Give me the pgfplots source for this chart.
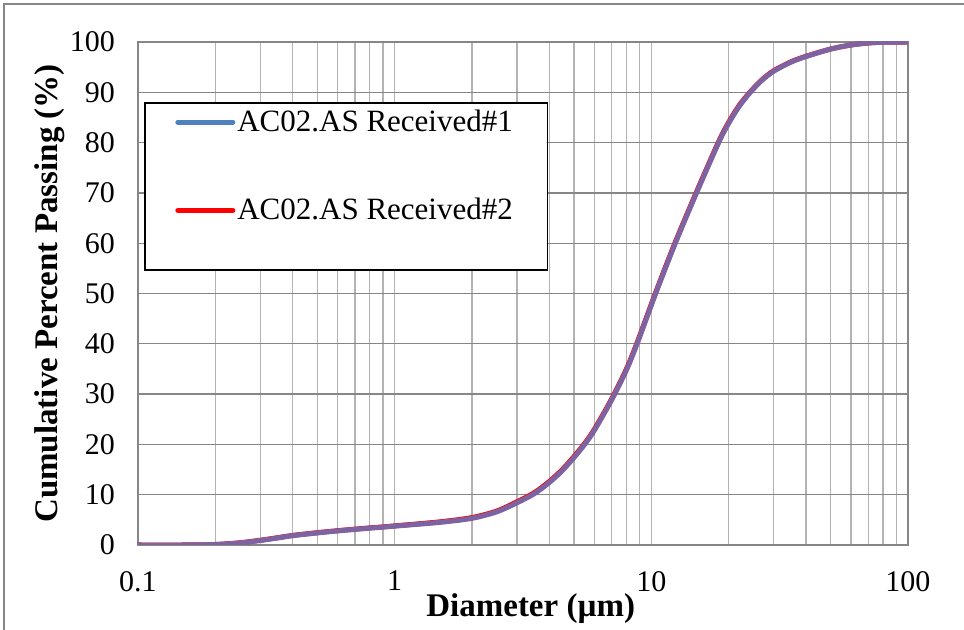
\documentclass[border=0pt]{standalone}
\usepackage{fontspec}
\setmainfont{Liberation Serif}
\usepackage{pgfplots}
\pgfplotsset{compat=1.18}
\definecolor{majgrid}{RGB}{134,134,134}
\definecolor{mingrid}{RGB}{179,179,179}
\definecolor{s1}{RGB}{79,129,189}
\definecolor{s1mix}{RGB}{126,99,162}
\definecolor{s2}{RGB}{255,0,0}
\pgfplotstableread{
x y
0.1 0
0.15 0
0.2 0.1
0.25 0.4
0.3 0.9
0.35 1.4
0.4 1.85
0.5 2.4
0.6 2.8
0.7 3.1
0.8 3.35
0.9 3.55
1 3.75
1.5 4.5
2 5.3
2.5 6.6
3 8.4
3.5 10.2
4 12.4
4.5 14.8
5 17.4
5.5 20.0
6 22.8
7 28.8
8 34.8
8.8 40
10.4 50
12.4 60
15 70
18.3 80
20 83.8
22 87.2
24.3 90
27 92.4
30 94.2
35 96.0
40 97.1
50 98.6
60 99.4
70 99.8
80 99.95
100 100
}\seriesA
\pgfplotstableread{
x y
0.1 0
0.15 0
0.2 0.1
0.25 0.45
0.3 0.95
0.35 1.45
0.4 1.9
0.5 2.45
0.6 2.85
0.7 3.15
0.8 3.4
0.9 3.6
1 3.8
1.5 4.6
2 5.45
2.5 6.75
3 8.6
3.5 10.4
4 12.6
4.5 15.0
5 17.6
5.5 20.2
6 23.0
7 29.0
8 35.0
8.8 40.2
10.4 50.2
12.4 60.2
15 70.2
18.3 80.2
20 84.0
22 87.4
24.3 90.1
27 92.5
30 94.3
35 96.05
40 97.15
50 98.6
60 99.4
70 99.8
80 99.95
100 100
}\seriesB
\begin{document}
\begin{tikzpicture}
\useasboundingbox (-69pt,-42.5pt) rectangle (413pt,272.5pt);
\draw[majgrid, line width=0.65pt] (-67pt,-50pt) -- (-67pt,270.5pt) -- (420pt,270.5pt);
\begin{axis}[
  at={(0,0)}, anchor=south west,
  scale only axis, width=385pt, height=251.5pt,
  xmode=log, xmin=0.1, xmax=100, ymin=0, ymax=100,
  xtick={0.1,1,10,100}, xticklabels={0.1,1,10,100},
  minor xtick={0.2,0.3,0.4,0.5,0.6,0.7,0.8,0.9,2,3,4,5,6,7,8,9,20,30,40,50,60,70,80,90},
  ytick={0,10,20,30,40,50,60,70,80,90,100},
  xmajorgrids, xminorgrids, ymajorgrids,
  major x grid style={mingrid, line width=0.65pt},
  minor x grid style={mingrid, line width=0.65pt},
  major y grid style={majgrid, line width=0.65pt},
  axis line style={majgrid, line width=0.65pt},
  major tick length=0pt, minor tick length=0pt,
  /pgf/number format/assume math mode=true,
  tick label style={font=\fontsize{15}{18}\selectfont},
  xticklabel style={yshift=-9.5pt},
  yticklabel style={xshift=-8pt},
  xlabel={Diameter (µm)},
  ylabel={Cumulative Percent Passing (\%)},
  label style={font=\fontsize{16.5}{19}\selectfont\bfseries},
  xlabel style={at={(axis description cs:0.51,-0.1272)}, anchor=center},
  ylabel style={at={(axis description cs:-0.1143,0.5)}, anchor=center},
  legend style={at={(rel axis cs:0.048,0.87)}, anchor=north west, draw=none, fill=none,
    inner sep=0pt, font=\fontsize{15.5}{18}\selectfont, row sep=30pt,
    nodes={inner sep=1pt}},
  legend cell align=left,
  legend image code/.code={\draw[#1, line cap=round] (0pt,0pt) -- (27.5pt,0pt);},
]
\filldraw[fill=white, draw=black, line width=0.75pt] (rel axis cs:0.009,0.879) rectangle (rel axis cs:0.532,0.547);
\addlegendimage{s1, line width=2.5pt}
\addlegendentry{AC02.AS Received\#1}
\addlegendimage{s2, line width=2.5pt}
\addlegendentry{AC02.AS Received\#2}
\addplot[s2, line width=2.5pt, smooth, forget plot] table[x=x, y=y] {\seriesB};
\addplot[s1mix, line width=2.5pt, smooth, forget plot] table[x=x, y=y] {\seriesA};
\end{axis}
\end{tikzpicture}
\end{document}
